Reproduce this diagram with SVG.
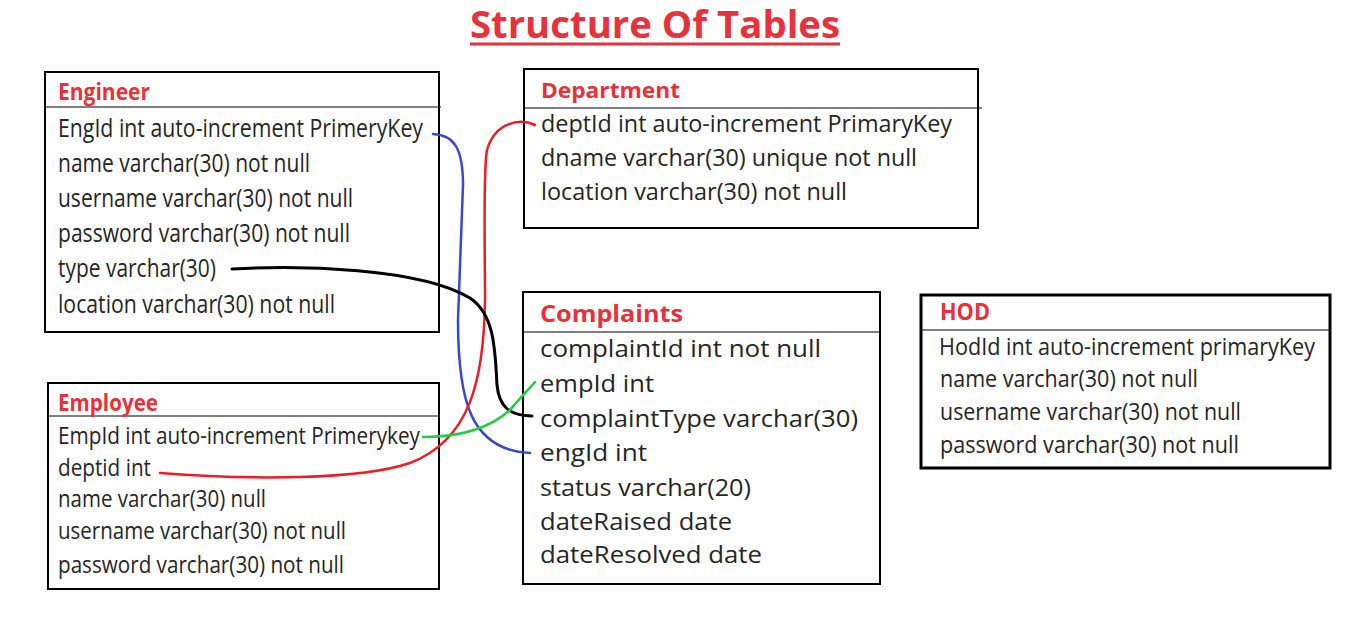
<svg xmlns="http://www.w3.org/2000/svg" width="1350" height="619" viewBox="0 0 1350 619">
<style>
.box{fill:#fff;stroke:#000;stroke-width:2}
.hline{stroke:#000;stroke-width:1.2}
.t{font-family:"Open Sans","Liberation Sans",sans-serif;font-weight:bold;fill:#e8323b}
.r{font-family:"Open Sans","Liberation Sans",sans-serif;fill:#262626}
.c{fill:none;stroke-linecap:round}
</style>
<rect width="1350" height="619" fill="#fff"/>
<g id="title">
<text class="t" x="470" y="38" font-size="37" textLength="370" lengthAdjust="spacingAndGlyphs">Structure Of Tables</text>
<line x1="470" y1="44" x2="840" y2="44" stroke="#e8323b" stroke-width="3"/>
</g>
<g id="engineer">
<rect class="box" x="45" y="72" width="394" height="260"/>
<line class="hline" x1="45" y1="107" x2="441" y2="107"/>
<text class="t" x="58" y="100" font-size="23" textLength="92" lengthAdjust="spacingAndGlyphs">Engineer</text>
<g class="r" font-size="25">
<text x="58" y="137" textLength="365" lengthAdjust="spacingAndGlyphs">EngId int auto-increment PrimeryKey</text>
<text x="58" y="172" textLength="252" lengthAdjust="spacingAndGlyphs">name varchar(30) not null</text>
<text x="58" y="207" textLength="295" lengthAdjust="spacingAndGlyphs">username varchar(30) not null</text>
<text x="58" y="242" textLength="292" lengthAdjust="spacingAndGlyphs">password varchar(30) not null</text>
<text x="58" y="277" textLength="158" lengthAdjust="spacingAndGlyphs">type varchar(30)</text>
<text x="58" y="313" textLength="277" lengthAdjust="spacingAndGlyphs">location varchar(30) not null</text>
</g>
</g>
<g id="department">
<rect class="box" x="524" y="69" width="454" height="159"/>
<line class="hline" x1="524" y1="108" x2="982" y2="108"/>
<text class="t" x="541" y="98" font-size="22" textLength="139" lengthAdjust="spacingAndGlyphs">Department</text>
<g class="r" font-size="24">
<text x="541" y="132" textLength="411" lengthAdjust="spacingAndGlyphs">deptId int auto-increment PrimaryKey</text>
<text x="541" y="166" textLength="376" lengthAdjust="spacingAndGlyphs">dname varchar(30) unique not null</text>
<text x="541" y="200" textLength="306" lengthAdjust="spacingAndGlyphs">location varchar(30) not null</text>
</g>
</g>
<g id="employee">
<rect class="box" x="48" y="383" width="391" height="206"/>
<line class="hline" x1="48" y1="416" x2="439" y2="416"/>
<text class="t" x="58" y="411" font-size="23" textLength="100" lengthAdjust="spacingAndGlyphs">Employee</text>
<g class="r" font-size="23">
<text x="58" y="444" textLength="362" lengthAdjust="spacingAndGlyphs">EmpId int auto-increment Primerykey</text>
<text x="58" y="476" textLength="93" lengthAdjust="spacingAndGlyphs">deptid int</text>
<text x="58" y="507" textLength="208" lengthAdjust="spacingAndGlyphs">name varchar(30) null</text>
<text x="58" y="539" textLength="288" lengthAdjust="spacingAndGlyphs">username varchar(30) not null</text>
<text x="58" y="573" textLength="286" lengthAdjust="spacingAndGlyphs">password varchar(30) not null</text>
</g>
</g>
<g id="complaints">
<rect class="box" x="523" y="292" width="357" height="292"/>
<line class="hline" x1="523" y1="332" x2="880" y2="332"/>
<text class="t" x="540" y="322" font-size="23" textLength="143" lengthAdjust="spacingAndGlyphs">Complaints</text>
<g class="r" font-size="24">
<text x="540" y="357" textLength="281" lengthAdjust="spacingAndGlyphs">complaintId int not null</text>
<text x="540" y="392" textLength="114" lengthAdjust="spacingAndGlyphs">empId int</text>
<text x="540" y="427" textLength="318" lengthAdjust="spacingAndGlyphs">complaintType varchar(30)</text>
<text x="540" y="461" textLength="107" lengthAdjust="spacingAndGlyphs">engId int</text>
<text x="540" y="496" textLength="211" lengthAdjust="spacingAndGlyphs">status varchar(20)</text>
<text x="540" y="530" textLength="192" lengthAdjust="spacingAndGlyphs">dateRaised date</text>
<text x="540" y="563" textLength="222" lengthAdjust="spacingAndGlyphs">dateResolved date</text>
</g>
</g>
<g id="hod">
<rect x="921" y="295" width="409" height="173" fill="#fff" stroke="#000" stroke-width="3"/>
<line class="hline" x1="921" y1="330" x2="1330" y2="330"/>
<text class="t" x="940" y="320" font-size="23" textLength="50" lengthAdjust="spacingAndGlyphs">HOD</text>
<g class="r" font-size="23">
<text x="939" y="355" textLength="376" lengthAdjust="spacingAndGlyphs">HodId int auto-increment primaryKey</text>
<text x="940" y="387" textLength="258" lengthAdjust="spacingAndGlyphs">name varchar(30) not null</text>
<text x="940" y="420" textLength="301" lengthAdjust="spacingAndGlyphs">username varchar(30) not null</text>
<text x="940" y="453" textLength="299" lengthAdjust="spacingAndGlyphs">password varchar(30) not null</text>
</g>
</g>
<g id="connectors">
<path class="c" stroke="#3a48cf" stroke-width="2.5" d="M433,134 C455,135 463,150 463,185 L458,320 C458,400 470,450 530,453"/>
<path class="c" stroke="#ee1c25" stroke-width="2.5" d="M535,125 C520,118 495,122 487,150 C483,170 485,250 485,300 C484,380 470,440 410,463 C360,480 250,480 160,473"/>
<path class="c" stroke="#000" stroke-width="3" d="M232,269 C300,265 420,268 470,298 C495,315 495,350 497,385 C499,405 508,416 532,416"/>
<path class="c" stroke="#22cc44" stroke-width="2.5" d="M423,437 C460,437 490,428 510,410 C520,398 528,390 535,382"/>
</g>
</svg>
